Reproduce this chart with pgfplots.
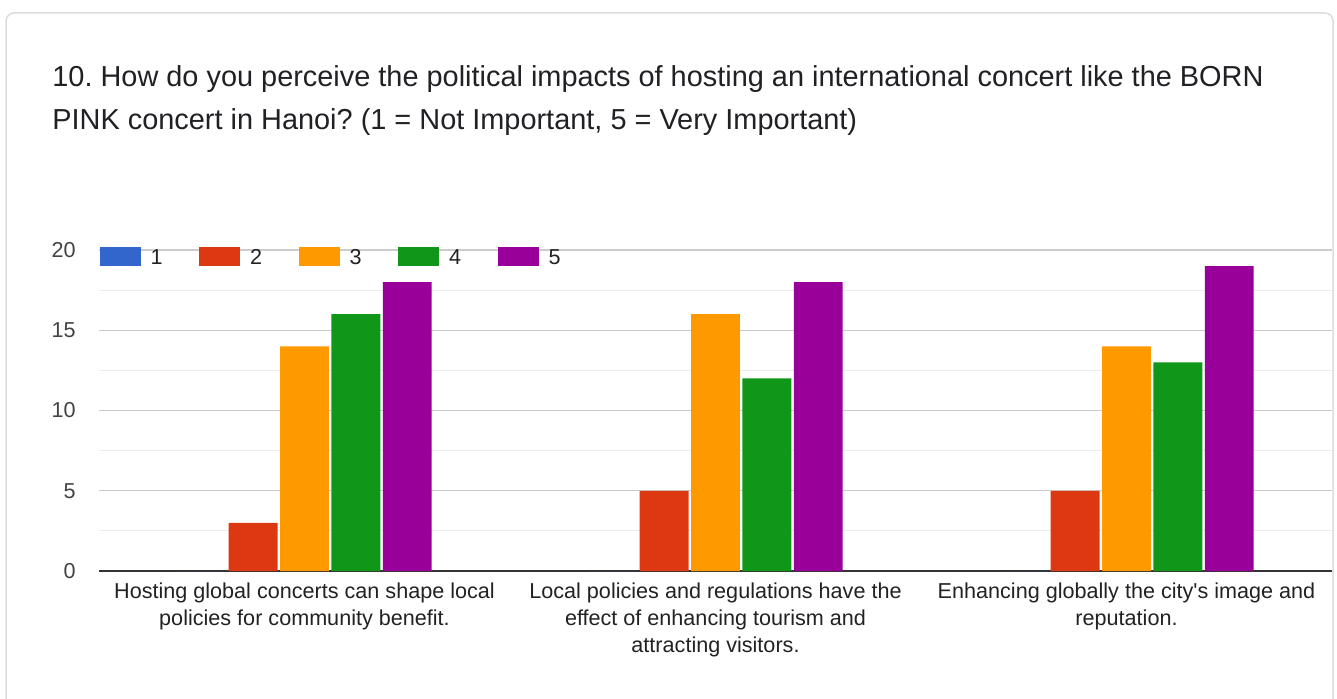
\documentclass[border=0pt]{standalone}
\usepackage{fontspec}
\setmainfont{Liberation Sans}
\usepackage{pgfplots}
\pgfplotsset{compat=1.18}
\definecolor{cA}{HTML}{3366CC}
\definecolor{cB}{HTML}{DC3912}
\definecolor{cC}{HTML}{FF9900}
\definecolor{cD}{HTML}{109618}
\definecolor{cE}{HTML}{990099}
\definecolor{gmaj}{HTML}{CCCCCC}
\definecolor{gmin}{HTML}{EBEBEB}
\definecolor{basec}{HTML}{333333}
\definecolor{txt}{HTML}{222222}
\definecolor{ttl}{HTML}{202124}
\definecolor{card}{HTML}{DADCE0}
\frenchspacing
\begin{document}
\begin{tikzpicture}
\useasboundingbox (0,0) rectangle (668.5pt,349pt);
\fill[white] (0,0) rectangle (668.5pt,349pt);
\draw[card, line width=0.75pt, rounded corners=4pt] (3pt,-20pt) rectangle (666.5pt,342.5pt);
\node[anchor=base west, inner sep=0pt, text=ttl, font=\fontsize{14.45}{17}\selectfont] at (26pt,305.7pt)
  {10. How do you perceive the political impacts of hosting an international concert like the BORN};
\node[anchor=base west, inner sep=0pt, text=ttl, font=\fontsize{14.45}{17}\selectfont] at (26pt,284.5pt)
  {PINK concert in Hanoi? (1 = Not Important, 5 = Very Important)};
\begin{axis}[
  at={(49.5pt,63.5pt)}, anchor=south west,
  scale only axis, width=616.5pt, height=160.5pt,
  xmin=-0.5, xmax=2.5, ymin=0, ymax=20,
  xtick={0,1,2},
  xticklabels={Hosting global concerts can shape local\\policies for community benefit.,
               Local policies and regulations have the\\effect of enhancing tourism and\\attracting visitors.,
               Enhancing globally the city\textquotesingle s image and\\reputation.},
  ytick={0,5,10,15,20},
  minor ytick={2.5,7.5,12.5,17.5},
  ymajorgrids, yminorgrids,
  major grid style={gmaj, line width=0.6pt},
  minor grid style={gmin, line width=0.6pt},
  major tick length=0pt, minor tick length=0pt,
  axis x line=bottom, axis y line=left,
  x axis line style={-, basec, line width=1pt},
  y axis line style={draw=none},
  tick style={draw=none},
  /pgf/number format/assume math mode=true,
  yticklabel style={anchor=east, inner sep=0pt, xshift=-11.5pt, text=txt!85, font=\fontsize{10.8}{13.5}\selectfont},
  xticklabel style={anchor=north, inner sep=0pt, yshift=-5.5pt, align=center, text=txt, font=\fontsize{10.8}{13.5}\selectfont},
  legend columns=5,
  legend style={at={(0,1)}, anchor=west, yshift=-3.6pt, xshift=0.25pt, draw=none, fill=none, inner sep=0pt, outer sep=0pt,
    nodes={inner sep=0pt, text=txt}, font=\fontsize{10.8}{13.5}\selectfont,
    /tikz/every odd column/.append style={column sep=5pt},
    /tikz/every even column/.append style={column sep=18.25pt}},
  legend image code/.code={\fill[#1] (0pt,-3.75pt) rectangle (20.5pt,5.75pt);},
  clip=false,
]
\addplot[ybar, bar width=0.119, bar shift=0pt, fill=cA, draw=none] coordinates {(-0.25,0) (0.75,0) (1.75,0)};
\addplot[ybar, bar width=0.119, bar shift=0pt, fill=cB, draw=none] coordinates {(-0.125,3) (0.875,5) (1.875,5)};
\addplot[ybar, bar width=0.119, bar shift=0pt, fill=cC, draw=none] coordinates {(0,14) (1,16) (2,14)};
\addplot[ybar, bar width=0.119, bar shift=0pt, fill=cD, draw=none] coordinates {(0.125,16) (1.125,12) (2.125,13)};
\addplot[ybar, bar width=0.119, bar shift=0pt, fill=cE, draw=none] coordinates {(0.25,18) (1.25,18) (2.25,19)};
\legend{1,2,3,4,5}
\end{axis}
\end{tikzpicture}
\end{document}
